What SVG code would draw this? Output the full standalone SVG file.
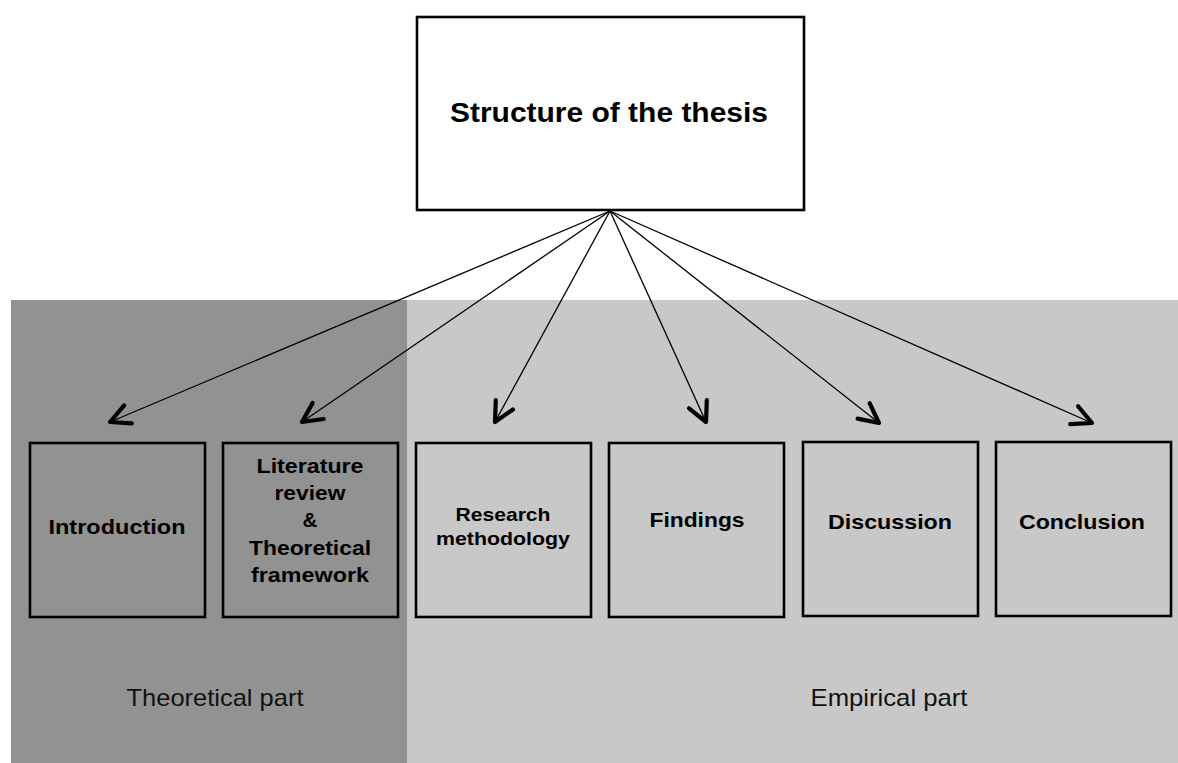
<svg xmlns="http://www.w3.org/2000/svg" width="1178" height="763" viewBox="0 0 1178 763">
  <style>
    .box { stroke: #000; stroke-width: 2.6; }
    .lbl { font-family: "Liberation Sans", Arial, sans-serif; font-weight: bold; fill: #000; text-anchor: middle; }
    .part { font-family: "Liberation Sans", Arial, sans-serif; font-size: 24px; fill: #111; text-anchor: middle; }
    .conn { stroke: #000; stroke-width: 1.3; fill: none; marker-end: url(#arr); }
  </style>
  <defs>
    <marker id="arr" markerUnits="userSpaceOnUse" orient="auto" markerWidth="30" markerHeight="30" refX="0" refY="0" viewBox="-16 -10 20 20" overflow="visible">
      <path d="M-13,-6.5 L0,0 L-13,6.5" fill="none" stroke="#000" stroke-width="2.8" stroke-linecap="round" stroke-linejoin="round"/>
    </marker>
  </defs>
  <rect width="1178" height="763" fill="#fff"/>
  <g id="panels">
    <rect x="407" y="300" width="771" height="463" fill="#c8c8c8"/>
    <rect x="11" y="300" width="396" height="463" fill="#929292"/>
    <text class="part" x="215" y="706" textLength="177" lengthAdjust="spacingAndGlyphs">Theoretical part</text>
    <text class="part" x="889" y="706" textLength="157" lengthAdjust="spacingAndGlyphs">Empirical part</text>
  </g>
  <g id="root">
    <rect class="box" x="417" y="17" width="387" height="193" fill="#fff"/>
    <text class="lbl" x="609" y="122" font-size="28" textLength="318" lengthAdjust="spacingAndGlyphs">Structure of the thesis</text>
  </g>
  <g id="connectors">
    <line class="conn" x1="610" y1="211" x2="110" y2="422"/>
    <line class="conn" x1="610" y1="211" x2="302" y2="422"/>
    <line class="conn" x1="610" y1="211" x2="495" y2="422"/>
    <line class="conn" x1="610" y1="211" x2="706" y2="422"/>
    <line class="conn" x1="610" y1="211" x2="879" y2="423"/>
    <line class="conn" x1="610" y1="211" x2="1092" y2="423"/>
  </g>
  <g id="introduction">
    <rect class="box" x="30" y="443" width="175" height="174" fill="#929292"/>
    <text class="lbl" x="117" y="534" font-size="20.5" textLength="137" lengthAdjust="spacingAndGlyphs">Introduction</text>
  </g>
  <g id="literature">
    <rect class="box" x="223" y="443" width="175" height="174" fill="#929292"/>
    <text class="lbl" x="310" y="473" font-size="20.5" textLength="107" lengthAdjust="spacingAndGlyphs">Literature</text>
    <text class="lbl" x="310" y="500" font-size="20.5" textLength="71" lengthAdjust="spacingAndGlyphs">review</text>
    <text class="lbl" x="310" y="527" font-size="20.5">&amp;</text>
    <text class="lbl" x="310" y="555" font-size="20.5" textLength="122" lengthAdjust="spacingAndGlyphs">Theoretical</text>
    <text class="lbl" x="310" y="582" font-size="20.5" textLength="118" lengthAdjust="spacingAndGlyphs">framework</text>
  </g>
  <g id="research">
    <rect class="box" x="416" y="443" width="175" height="174" fill="#c8c8c8"/>
    <text class="lbl" x="503" y="521" font-size="19" textLength="95" lengthAdjust="spacingAndGlyphs">Research</text>
    <text class="lbl" x="503" y="545" font-size="19" textLength="134" lengthAdjust="spacingAndGlyphs">methodology</text>
  </g>
  <g id="findings">
    <rect class="box" x="609" y="443" width="175" height="174" fill="#c8c8c8"/>
    <text class="lbl" x="697" y="527" font-size="21" textLength="95" lengthAdjust="spacingAndGlyphs">Findings</text>
  </g>
  <g id="discussion">
    <rect class="box" x="803" y="442" width="175" height="174" fill="#c8c8c8"/>
    <text class="lbl" x="890" y="529" font-size="21" textLength="124" lengthAdjust="spacingAndGlyphs">Discussion</text>
  </g>
  <g id="conclusion">
    <rect class="box" x="996" y="442" width="175" height="174" fill="#c8c8c8"/>
    <text class="lbl" x="1082" y="529" font-size="21" textLength="126" lengthAdjust="spacingAndGlyphs">Conclusion</text>
  </g>
</svg>
